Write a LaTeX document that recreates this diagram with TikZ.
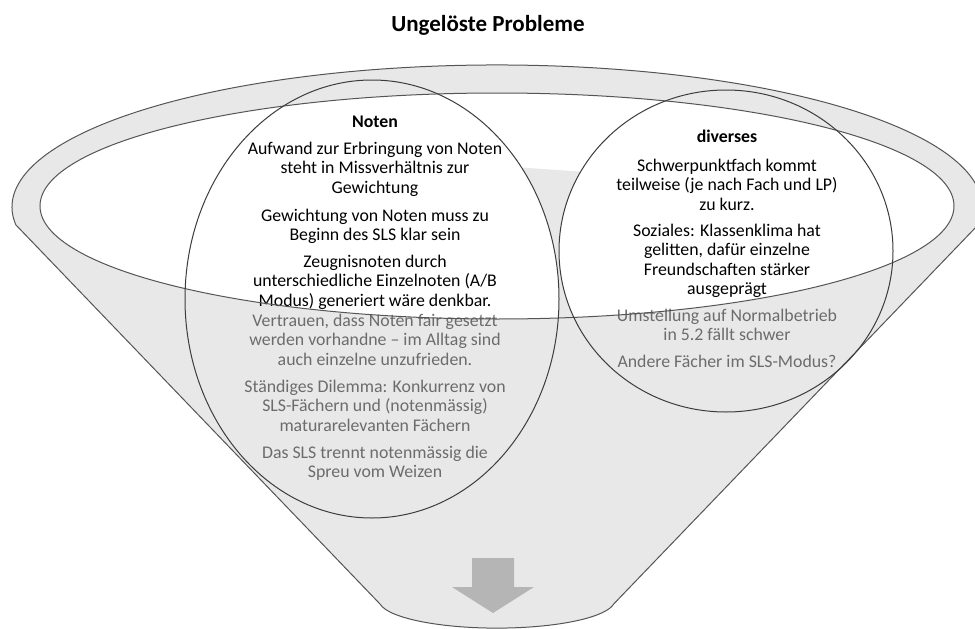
\documentclass[tikz,border=0pt]{standalone}
\usepackage{fontspec}
\setmainfont{Carlito}
\usepackage{tikz}
\usetikzlibrary{positioning}
\definecolor{funnelgray}{RGB}{232,232,232}
\definecolor{rimline}{RGB}{85,85,85}
\definecolor{ringline}{RGB}{60,60,60}
\definecolor{fadedtext}{RGB}{108,108,108}
\definecolor{arrowgray}{RGB}{181,181,181}

\begin{document}
\begin{tikzpicture}[x=1pt, y=-1pt,
    txt/.style={align=center, inner sep=0pt, anchor=base, font=\fontsize{17.8}{19.5}\selectfont},
    head/.style={txt, font=\fontsize{17.8}{19.5}\selectfont\bfseries},
    faded/.style={txt, text=fadedtext}]
  \useasboundingbox (0,0) rectangle (975,629);
  % funnel body with rim
  \filldraw[fill=funnelgray, draw=rimline, line width=1pt]
    (16,225) -- (380,604) arc[start angle=172, end angle=8, x radius=118, y radius=28]
    -- (978,225) arc[start angle=7.3, end angle=-187.3, x radius=485, y radius=142] -- cycle;
  \fill[white] (497,206) ellipse[x radius=457, y radius=113];
  \begin{scope}
    \clip (497,206) ellipse[x radius=457, y radius=113];
    \fill[funnelgray] (470,164) -- (630,175) -- (630,330) -- (470,330) -- cycle;
    \fill[white] (372,299) ellipse[x radius=187, y radius=219];
    \fill[white] (726,251) ellipse[x radius=167, y radius=161];
  \end{scope}

  \node[anchor=base, font=\fontsize{23}{27}\selectfont\bfseries] (title) at (488,31) {Ungelöste Probleme};

  % left circle (nodes sit on the baseline of their last line)
  \node[head] (noten) at (375,127) {Noten};
  \node[txt] (aufwand) at (375,193) {Aufwand zur Erbringung von Noten\\steht in Missverhältnis zur\\Gewichtung};
  \node[txt] (gewicht) at (375,240.5) {Gewichtung von Noten muss zu\\Beginn des SLS klar sein};
  \node[txt] (zeugnis) at (375,306) {Zeugnisnoten durch\\unterschiedliche Einzelnoten (A/B\\Modus) generiert wäre denkbar.};
  \node[faded] (vertrauen) at (375,365) {Vertrauen, dass Noten fair gesetzt\\werden vorhandne – im Alltag sind\\auch einzelne unzufrieden.};
  \node[faded] (dilemma) at (375,431) {Ständiges Dilemma: Konkurrenz von\\SLS-Fächern und (notenmässig)\\maturarelevanten Fächern};
  \node[faded] (spreu) at (375,477.5) {Das SLS trennt notenmässig die\\Spreu vom Weizen};

  % right circle
  \node[head] (diverses) at (727,142) {diverses};
  \node[txt] (schwer) at (727,210) {Schwerpunktfach kommt\\teilweise (je nach Fach und LP)\\zu kurz.};
  \node[txt] (sozial) at (727,294.5) {Soziales: Klassenklima hat\\gelitten, dafür einzelne\\Freundschaften stärker\\ausgeprägt};
  \node[faded] (umstellung) at (727,340.5) {Umstellung auf Normalbetrieb\\in 5.2 fällt schwer};
  \node[faded] (andere) at (727,367) {Andere Fächer im SLS-Modus?};

  \draw[rimline, line width=1pt] (497,206) ellipse[x radius=457, y radius=113];
  \draw[ringline, line width=1pt] (372,299) ellipse[x radius=187, y radius=219];
  \draw[ringline, line width=1pt] (726,251) ellipse[x radius=167, y radius=161];

  % arrow out of the funnel
  \fill[arrowgray] (472,558) -- (514,558) -- (514,587) -- (534,587) -- (493,613)
    -- (452,587) -- (472,587) -- cycle;
\end{tikzpicture}
\end{document}
